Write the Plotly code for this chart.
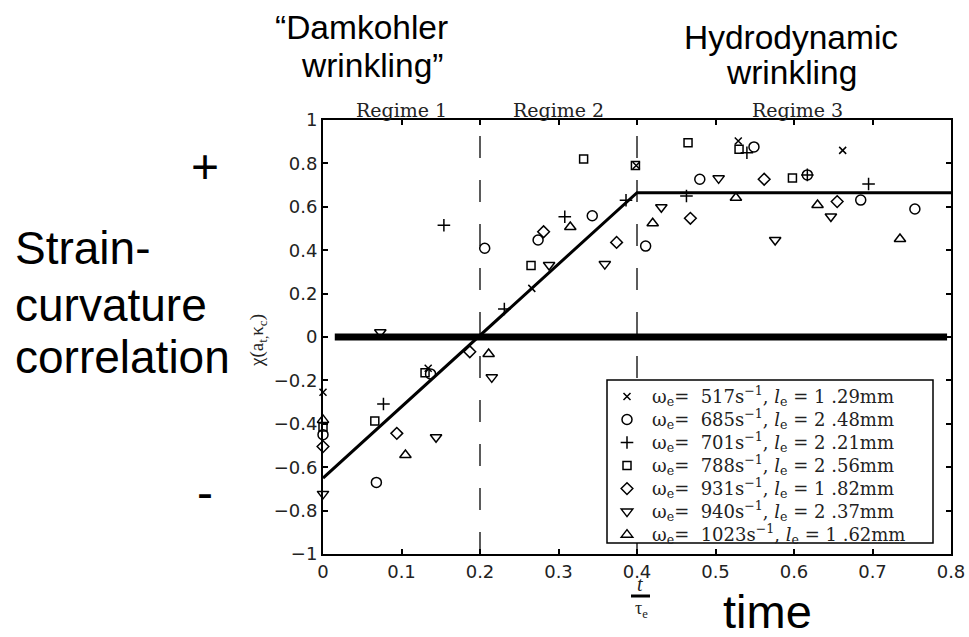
import plotly.graph_objects as go

W, H = 969, 637
ML, MR, MT, MB = 323, 18, 120, 83
PW, PH = W - ML - MR, H - MT - MB


def px(xp):
    return (xp - ML) / PW


def py(yp):
    return (H - MB - yp) / PH


# ---------------- data ----------------
series_names = [
    "ω<sub>e</sub>=  517s<sup>−1</sup>, <i>l</i><sub>e</sub> = 1 .29mm",
    "ω<sub>e</sub>=  685s<sup>−1</sup>, <i>l</i><sub>e</sub> = 2 .48mm",
    "ω<sub>e</sub>=  701s<sup>−1</sup>, <i>l</i><sub>e</sub> = 2 .21mm",
    "ω<sub>e</sub>=  788s<sup>−1</sup>, <i>l</i><sub>e</sub> = 2 .56mm",
    "ω<sub>e</sub>=  931s<sup>−1</sup>, <i>l</i><sub>e</sub> = 1 .82mm",
    "ω<sub>e</sub>=  940s<sup>−1</sup>, <i>l</i><sub>e</sub> = 2 .37mm",
    "ω<sub>e</sub>=  1023s<sup>−1</sup>, <i>l</i><sub>e</sub> = 1 .62mm",
]

x_517 = [0.0, 0.134, 0.266, 0.399, 0.529, 0.662]
y_517 = [-0.255, -0.144, 0.224, 0.79, 0.903, 0.86]

x_685 = [0.0, 0.068, 0.137, 0.206, 0.274, 0.343, 0.411, 0.48, 0.549, 0.617, 0.685, 0.754]
y_685 = [-0.45, -0.67, -0.17, 0.409, 0.447, 0.559, 0.419, 0.727, 0.876, 0.747, 0.631, 0.59]

x_701 = [0.077, 0.154, 0.231, 0.308, 0.386, 0.463, 0.54, 0.617, 0.695]
y_701 = [-0.309, 0.515, 0.129, 0.554, 0.63, 0.65, 0.849, 0.747, 0.705]

x_788 = [0.0, 0.066, 0.13, 0.265, 0.332, 0.398, 0.465, 0.53, 0.598]
y_788 = [-0.415, -0.387, -0.165, 0.329, 0.82, 0.79, 0.895, 0.865, 0.733]

x_931 = [0.0, 0.094, 0.187, 0.281, 0.374, 0.468, 0.562, 0.655]
y_931 = [-0.505, -0.444, -0.068, 0.485, 0.436, 0.547, 0.727, 0.624]

x_940 = [0.0, 0.073, 0.144, 0.215, 0.288, 0.359, 0.431, 0.504, 0.576, 0.647]
y_940 = [-0.723, 0.022, -0.462, -0.186, 0.332, 0.336, 0.598, 0.731, 0.447, 0.555]

x_1023 = [0.0, 0.105, 0.211, 0.315, 0.42, 0.526, 0.63, 0.735]
y_1023 = [-0.382, -0.544, -0.078, 0.507, 0.524, 0.642, 0.608, 0.452]

series_x = [x_517, x_685, x_701, x_788, x_931, x_940, x_1023]
series_y = [y_517, y_685, y_701, y_788, y_931, y_940, y_1023]

# model line: linear growth then plateau
fit_x = [0.0, 0.4, 0.8]
fit_y = [-0.65, 0.665, 0.665]

# thick zero-correlation line
zero_x = [0.015, 0.795]
zero_y = [0.0, 0.0]

# regime boundaries
regime_bounds = [0.2, 0.4]
regime_labels = ["Regime 1", "Regime 2", "Regime 3"]
regime_centers = [0.1, 0.3, 0.605]

x_ticks = [0, 0.1, 0.2, 0.3, 0.4, 0.5, 0.6, 0.7, 0.8]
x_ticktext = ["0", "0.1", "0.2", "0.3", "0.4", "0.5", "0.6", "0.7", "0.8"]
y_ticks = [-1, -0.8, -0.6, -0.4, -0.2, 0, 0.2, 0.4, 0.6, 0.8, 1]
y_ticktext = ["−1", "−0.8", "−0.6", "−0.4", "−0.2", "0", "0.2", "0.4", "0.6", "0.8", "1"]

# ---------------- styles ----------------
symbols = ["x-thin-open", "circle-open", "cross-thin-open", "square-open",
           "diamond-open", "triangle-down-open", "triangle-up-open"]
sizes = [7, 10, 9, 8, 9, 10, 10]

SERIF = "Liberation Serif, Times New Roman, serif"
LEGF = "DejaVu Serif, serif"
SANS = "Liberation Sans, Arial, sans-serif"
TICKF = "DejaVu Sans, Verdana, sans-serif"

fig = go.Figure()

for b in regime_bounds:
    fig.add_trace(go.Scatter(x=[b, b], y=[-1, 1], mode="lines",
                             line=dict(color="#333333", width=1.6, dash="22px,22px"),
                             showlegend=False, hoverinfo="skip"))

fig.add_trace(go.Scatter(x=zero_x, y=zero_y, mode="lines",
                         line=dict(color="black", width=7), showlegend=False, hoverinfo="skip"))

fig.add_trace(go.Scatter(x=fit_x, y=fit_y, mode="lines",
                         line=dict(color="black", width=3), showlegend=False, hoverinfo="skip"))

for name, xs, ys, sym, sz in zip(series_names, series_x, series_y, symbols, sizes):
    fig.add_trace(go.Scatter(x=xs, y=ys, mode="markers",
                             name='<span style="font-size:18px">' + name + "</span>",
                             marker=dict(symbol=sym, size=sz, color="black",
                                         line=dict(color="black", width=1.5)),
                             cliponaxis=False))

axis_common = dict(showgrid=False, zeroline=False, showline=True, linecolor="black",
                   linewidth=2, mirror="ticks", ticks="inside", ticklen=5, tickwidth=1.5,
                   tickcolor="black", automargin=False,
                   tickfont=dict(family=TICKF, size=18, color="#222"))

fig.update_layout(
    width=W, height=H,
    margin=dict(l=ML, r=MR, t=MT, b=MB, pad=0),
    paper_bgcolor="white", plot_bgcolor="white",
    template="none",
    showlegend=True,
    legend=dict(x=px(602), y=py(380), xanchor="left", yanchor="top",
                bgcolor="rgba(0,0,0,0)", borderwidth=0,
                font=dict(family=LEGF, size=15.4, color="#222"),
                tracegroupgap=0, itemwidth=40),
    xaxis=dict(range=[0, 0.8], tickvals=x_ticks, ticktext=x_ticktext, **axis_common),
    yaxis=dict(range=[-1, 1], tickvals=y_ticks, ticktext=y_ticktext, **axis_common),
)

ann = []
for lab, c in zip(regime_labels, regime_centers):
    ann.append(dict(x=c, y=1, xref="x", yref="paper", xanchor="center", yanchor="bottom",
                    yshift=-3, text=lab, showarrow=False,
                    font=dict(family=LEGF, size=19, color="#222")))


def note(text, xp, yp, size, family=SANS, color="black", xanchor="center", **kw):
    ann.append(dict(x=px(xp), y=py(yp), xref="paper", yref="paper", text=text,
                    xanchor=xanchor, yanchor="middle", showarrow=False,
                    font=dict(family=family, size=size, color=color), **kw))


note("χ(a<sub>t,</sub>κ<sub>c</sub>)", 258, 341, 19, family=SERIF, color="#222", textangle=-90)
note("<i>t</i>", 640, 584, 20, family=SERIF, color="#222")
note("τ<sub>e</sub>", 641, 609, 18, family=SERIF, color="#222")

note("“Damkohler", 361, 27, 33.5)
note("wrinkling”", 372, 65, 33.5)
note("Hydrodynamic", 791, 37, 33.5)
note("wrinkling", 791, 72, 33.5)
note("+", 205, 166, 48)
note("-", 205, 492, 48)
note("Strain-", 13, 248, 46, xanchor="left")
note("curvature", 13, 305, 46, xanchor="left")
note("correlation", 13, 357, 46, xanchor="left")
note("time", 767, 611, 47)

fig.update_layout(annotations=ann)
fig.add_shape(type="line", xref="paper", yref="paper",
              x0=px(631), x1=px(650), y0=py(596), y1=py(596),
              line=dict(color="black", width=3))
# legend frame (opaque, covers the dashed line like the original)
fig.add_shape(type="rect", xref="paper", yref="paper",
              x0=px(607), x1=px(933), y0=py(543), y1=py(380),
              line=dict(color="black", width=1.5), fillcolor="white", layer="above")

fig.write_html("out.html")
